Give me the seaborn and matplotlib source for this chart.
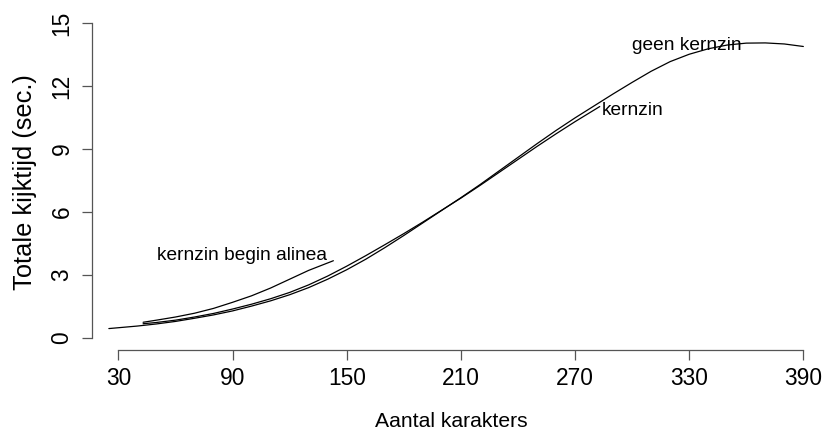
import matplotlib
matplotlib.use("Agg")
import matplotlib.pyplot as plt
import seaborn as sns
import pandas as pd

# Fitted viewing-time curves (seconds) against number of characters
geen_x = [25, 30, 40, 50, 60, 70, 80, 90, 100, 110, 120, 130, 140, 150, 160, 170,
          180, 190, 200, 210, 220, 230, 240, 250, 260, 270, 280, 290, 300, 310,
          320, 330, 340, 350, 360, 370, 380, 390]
geen_y = [0.45, 0.49, 0.57, 0.67, 0.79, 0.94, 1.10, 1.29, 1.52, 1.77, 2.06, 2.40,
          2.80, 3.25, 3.75, 4.30, 4.88, 5.48, 6.08, 6.68, 7.30, 7.95, 8.60, 9.25,
          9.88, 10.48, 11.05, 11.62, 12.17, 12.70, 13.16, 13.51, 13.77, 13.95,
          14.04, 14.05, 14.00, 13.88]

kern_x = [43, 50, 60, 70, 80, 90, 100, 110, 120, 130, 140, 150, 160, 170, 180,
          190, 200, 210, 220, 230, 240, 250, 260, 270, 283]
kern_y = [0.68, 0.74, 0.85, 1.00, 1.17, 1.38, 1.61, 1.87, 2.17, 2.53, 2.95, 3.42,
          3.92, 4.44, 4.97, 5.52, 6.09, 6.66, 7.26, 7.88, 8.50, 9.12, 9.72, 10.30,
          11.02]

begin_x = [43, 50, 60, 70, 80, 90, 100, 110, 120, 130, 143]
begin_y = [0.75, 0.85, 1.00, 1.18, 1.41, 1.70, 2.01, 2.38, 2.80, 3.22, 3.68]

x_ticks = [30, 90, 150, 210, 270, 330, 390]
y_ticks = [0, 3, 6, 9, 12, 15]

sns.set_theme(style="white")
plt.rcParams["font.family"] = ["Liberation Sans", "DejaVu Sans"]
plt.rcParams["text.color"] = "black"
plt.rcParams["axes.labelcolor"] = "black"

fig = plt.figure(figsize=(8.22, 4.33), dpi=100)
ax = fig.add_axes([0.1116, 0.1917, 0.8738, 0.7737])

for xs, ys in [(geen_x, geen_y), (kern_x, kern_y), (begin_x, begin_y)]:
    df = pd.DataFrame({"x": xs, "y": ys})
    sns.lineplot(data=df, x="x", y="y", ax=ax, color="black", linewidth=0.9,
                 estimator=None, sort=False)

ax.text(95, 3.95, "kernzin begin alinea", ha="center", va="center",
        fontsize=13.8, color="black")
ax.text(284, 10.85, "kernzin", ha="left", va="center", fontsize=13.8,
        color="black")
ax.text(329, 13.95, "geen kernzin", ha="center", va="center", fontsize=13.8,
        color="black")

ax.set_xlim(16.0, 393.5)
ax.set_ylim(-0.57, 15.38)
ax.set_xticks(x_ticks)
ax.set_yticks(y_ticks)
ax.set_xticklabels([str(v) for v in x_ticks])
ax.set_yticklabels([str(v) for v in y_ticks], rotation=90, va="center")

for side in ["top", "right"]:
    ax.spines[side].set_visible(False)
ax.spines["left"].set_bounds(0, 15)
ax.spines["bottom"].set_bounds(30, 390)
for side in ["left", "bottom"]:
    ax.spines[side].set_color("#555555")
    ax.spines[side].set_linewidth(0.9)

ax.tick_params(axis="both", direction="out", length=7.2, width=0.9,
               color="#555555", labelsize=16.4, labelcolor="black")
ax.tick_params(axis="x", pad=5, bottom=True)
ax.tick_params(axis="y", pad=6, left=True)

ax.set_xlabel("Aantal karakters", fontsize=15.2, labelpad=16, color="black")
ax.set_ylabel("Totale kijktijd (sec.)", fontsize=18.3, labelpad=10,
              color="black")

fig.savefig("out.png", dpi=100, facecolor="white")
